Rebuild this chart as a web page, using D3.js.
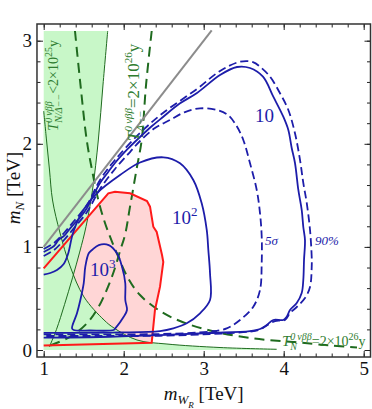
<!DOCTYPE html>
<html><head><meta charset="utf-8">
<script src="https://cdn.jsdelivr.net/npm/d3@7"></script>
<style>body{margin:0;background:#fff;}svg{display:block;}</style>
</head><body><svg id="c" width="372" height="409"></svg>
<script>
// ---- data (m_WR [TeV], m_N [TeV]) ----
const xTicks = [1, 2, 3, 4, 5];
const yTicks = [0, 1, 2, 3];
const greenSolidN = [[1.0,2.318],[1.035,2.037],[1.0725,1.746],[1.11,1.455],[1.204,1.135],[1.329,0.815],[1.504,0.514],[1.754,0.291],[1.879,0.213],[2.166,0.097],[2.541,0.058],[3.204,0.024],[3.9125,0.007]];
const greenSolidD = [[1.8,3.094],[1.741,2.57],[1.683,2.037],[1.61,1.55],[1.53,1.2],[1.45,0.95],[1.36,0.7],[1.26,0.44],[1.16,0.2],[1.07,0.03]];
const greenDashN = [[1.391,3.094],[1.46,2.57],[1.5375,2.037],[1.604,1.746],[1.6825,1.455],[1.754,1.261],[1.829,1.099],[1.9325,0.905],[2.054,0.698],[2.204,0.533],[2.454,0.378],[2.704,0.281],[3.079,0.189],[3.579,0.116],[4.116,0.078],[4.579,0.044],[4.916,0.024]];
const greenDashD = [[2.35,3.094],[2.279,2.57],[2.225,2.037],[2.16,1.75],[2.079,1.39],[2.016,1.115],[1.9575,0.97],[1.891,0.795],[1.8125,0.63],[1.6875,0.42],[1.541,0.259],[1.3325,0.129],[1.041,0.032]];
const grayLine = [[1.0,1.0],[3.1,3.1]];
const redRegion = [[1.0,0.792],[1.8075,1.52],[1.891,1.535],[2.079,1.52],[2.291,1.445],[2.329,1.39],[2.37,1.196],[2.4125,1.145],[2.479,0.921],[2.495,0.854],[2.454,0.614],[2.391,0.388],[2.35,0.071],[1.0,0.044]];
const c10 = [[1.0,0.951],[1.06,0.975],[1.129,1.009],[1.19,1.07],[1.254,1.106],[1.32,1.17],[1.379,1.222],[1.46,1.29],[1.541,1.377],[1.62,1.5],[1.704,1.62],[1.8,1.72],[1.891,1.814],[2.05,1.95],[2.204,2.066],[2.35,2.17],[2.491,2.26],[2.7,2.39],[2.916,2.493],[3.204,2.667],[3.416,2.745],[3.579,2.735],[3.741,2.651],[3.87,2.457],[3.995,2.263],[4.058,2.134],[4.1,1.959],[4.141,1.814],[4.183,1.552],[4.225,1.358],[4.245,1.193],[4.266,1.067],[4.254,0.873],[4.245,0.679],[4.225,0.553],[4.163,0.456],[4.079,0.388],[4.038,0.323],[3.995,0.291],[3.87,0.291],[3.788,0.242],[3.704,0.204],[3.579,0.184],[3.079,0.165],[2.454,0.145],[1.704,0.126],[1.0,0.121]];
const c90 = [[1.0,0.98],[1.129,1.038],[1.254,1.135],[1.379,1.251],[1.541,1.406],[1.704,1.649],[1.891,1.843],[2.204,2.105],[2.491,2.299],[2.916,2.532],[3.204,2.706],[3.454,2.796],[3.616,2.793],[3.704,2.748],[3.829,2.651],[3.954,2.49],[4.058,2.328],[4.141,2.102],[4.204,1.843],[4.245,1.62],[4.288,1.426],[4.329,1.164],[4.35,0.902],[4.35,0.805],[4.329,0.611],[4.266,0.504],[4.163,0.417],[4.079,0.359],[4.016,0.291],[3.891,0.281],[3.788,0.238],[3.704,0.199],[3.579,0.179],[3.079,0.155],[2.454,0.138],[1.704,0.136],[1.0,0.136]];
const c5s = [[1.0,0.912],[1.129,0.97],[1.254,1.067],[1.379,1.183],[1.541,1.338],[1.704,1.562],[1.891,1.756],[2.079,1.92],[2.204,2.027],[2.391,2.153],[2.579,2.231],[2.766,2.308],[2.954,2.344],[3.163,2.328],[3.304,2.279],[3.404,2.182],[3.495,2.037],[3.579,1.811],[3.663,1.552],[3.704,1.326],[3.725,1.099],[3.725,0.844],[3.704,0.582],[3.62,0.42],[3.454,0.291],[3.288,0.21],[3.079,0.179],[2.454,0.155],[1.704,0.152],[1.0,0.152]];
const c100 = [[1.0,0.732],[1.083,0.747],[1.166,0.776],[1.25,0.834],[1.304,0.931],[1.37,1.145],[1.495,1.358],[1.663,1.52],[1.954,1.697],[2.204,1.819],[2.495,1.869],[2.704,1.811],[2.87,1.649],[2.975,1.423],[3.038,1.164],[3.058,0.97],[3.079,0.744],[3.079,0.485],[2.954,0.356],[2.788,0.259],[2.62,0.21],[2.454,0.184],[1.954,0.17],[1.0,0.167]];
const c1000 = [[1.604,0.97],[1.688,1.018],[1.813,1.018],[1.916,0.938],[1.979,0.808],[2.02,0.647],[2.02,0.485],[2.041,0.388],[2.0,0.323],[1.895,0.21],[1.875,0.194],[1.579,0.189],[1.375,0.194],[1.354,0.21],[1.416,0.356],[1.458,0.485],[1.5,0.647],[1.52,0.808],[1.563,0.938]];

// ---- setup ----
const svg = d3.select('#c');
const x = d3.scaleLinear().domain([1,5]).range([43.7,363.7]);
const y = d3.scaleLinear().domain([0,3]).range([350,40.7]);
const X0 = x(0.916), X1 = x(5.085), Y0 = y(3.162), Y1 = y(-0.068);
const SERIF = "'Liberation Serif','DejaVu Serif',serif";
const BLUE = '#1d1daa', GREEN = '#1f6b1f', GTXT = '#2f7d2f';

svg.append('defs').append('clipPath').attr('id','clip').append('rect')
  .attr('x',X0).attr('y',Y0).attr('width',X1-X0).attr('height',Y1-Y0);
const plot = svg.append('g').attr('clip-path','url(#clip)');

const lineLin = d3.line().x(d=>x(d[0])).y(d=>y(d[1]));
const lineSm = d3.line().x(d=>x(d[0])).y(d=>y(d[1])).curve(d3.curveCatmullRom.alpha(0.5));
const lineSmClosed = d3.line().x(d=>x(d[0])).y(d=>y(d[1])).curve(d3.curveCatmullRomClosed.alpha(0.5));

// pink region
plot.append('path').attr('d', lineLin(redRegion)+'Z').attr('fill','#ffd6d6').attr('stroke','none');
// green excluded region (union of two regions)
const gFill = '#c8f7c8';
plot.append('path').attr('d', 'M'+x(1)+','+y(0)+'L'+x(1)+','+y(3.094)+'L'+lineSm(greenSolidD).slice(1)+'L'+x(1.07)+','+y(0)+'Z').attr('fill',gFill);
plot.append('path').attr('d', 'M'+x(1)+','+y(0)+'L'+lineSm(greenSolidN).slice(1)+'L'+x(3.9125)+','+y(0)+'Z').attr('fill',gFill);
// green thin lines
[greenSolidN, greenSolidD].forEach(d=>plot.append('path').attr('d',lineSm(d)).attr('fill','none').attr('stroke',GREEN).attr('stroke-width',1));
// green dashed lines
[greenDashN, greenDashD].forEach(d=>plot.append('path').attr('d',lineSm(d)).attr('fill','none').attr('stroke',GREEN).attr('stroke-width',2).attr('stroke-dasharray','10,6'));
// gray line
plot.append('path').attr('d',lineLin(grayLine)).attr('stroke','#8c8c8c').attr('stroke-width',2).attr('fill','none');
// red outline
plot.append('path').attr('d', lineLin(redRegion)).attr('fill','none').attr('stroke','#ff1a1a').attr('stroke-width',2);
// blue contours
const blue = (d, dash) => plot.append('path').attr('d', lineSm(d)).attr('fill','none').attr('stroke',BLUE).attr('stroke-width',1.8).attr('stroke-dasharray', dash||null);
blue(c90,'8,4'); blue(c5s,'8,4'); blue(c10); blue(c100);
plot.append('path').attr('d', lineSmClosed(c1000)).attr('fill','none').attr('stroke',BLUE).attr('stroke-width',1.8);

// ---- rich text helper ----
function rich(g, parts, fill) {
  let xx = 0, lastStart = 0;
  parts.forEach(p => {
    const start = p.stack ? lastStart : xx;
    const t = g.append('text').attr('x',start).attr('y',p.dy||0).attr('font-size',p.s)
      .attr('font-family',SERIF).attr('fill',fill).attr('font-style',p.it?'italic':'normal')
      .style('white-space','pre').text(p.t);
    const w = t.node().getComputedTextLength();
    xx = p.stack ? Math.max(xx, start+w) : start+w;
    lastStart = start;
  });
  return xx;
}

// blue labels
const bl = svg.append('g');
rich(bl.append('g').attr('transform','translate(255,122)'), [{t:'10',s:19}], BLUE);
rich(bl.append('g').attr('transform','translate(172,224)'), [{t:'10',s:19},{t:'2',s:13,dy:-8}], BLUE);
rich(bl.append('g').attr('transform','translate(90,276)'), [{t:'10',s:19},{t:'3',s:13,dy:-8}], BLUE);
rich(bl.append('g').attr('transform','translate(265,245)'), [{t:'5σ',s:13,it:true}], BLUE);
rich(bl.append('g').attr('transform','translate(315,245)'), [{t:'90%',s:13,it:true}], BLUE);

// green labels
rich(svg.append('g').attr('transform','translate(58,131) rotate(-90)'),
  [{t:'T',s:15,it:true},{t:'0\u2009νββ',s:10,dy:-6,it:true},{t:'N/Δ−−',s:10,dy:4,it:true,stack:true},{t:'<2×10',s:14},{t:'25',s:10,dy:-6},{t:'y',s:14}], GTXT);
rich(svg.append('g').attr('transform','translate(139,141) rotate(-90)'),
  [{t:'T',s:17,it:true},{t:'0\u2009νββ',s:11,dy:-7,it:true},{t:'Δ−−',s:11,dy:5,it:true,stack:true},{t:'=2×10',s:17},{t:'26',s:11,dy:-7},{t:'y',s:17}], GTXT);
rich(svg.append('g').attr('transform','translate(282,346)'),
  [{t:'T',s:15,it:true},{t:'0\u2009νββ',s:10,dy:-6,it:true},{t:'N',s:10,dy:4,it:true,stack:true},{t:'=2×10',s:14},{t:'26',s:10,dy:-6},{t:'y',s:14}], GTXT);

// ---- axes ----
const minorX = d3.range(1, 5.01, 0.2), minorY = d3.range(0, 3.11, 0.2);
function ax(gen, scale, vals, size, tr, labels) {
  const a = gen(scale).tickValues(vals).tickSize(-size).tickPadding(5);
  a.tickFormat(labels ? d3.format('d') : '');
  const g = svg.append('g').attr('transform',tr).call(a);
  g.select('.domain').remove();
  g.selectAll('line').attr('stroke','#222').attr('stroke-width',1);
  g.selectAll('text').attr('font-family',SERIF).attr('font-size',19).attr('fill','#111');
  return g;
}
ax(d3.axisBottom, x, minorX, 3.5, `translate(0,${Y1})`, false);
ax(d3.axisTop, x, minorX, 3.5, `translate(0,${Y0})`, false);
ax(d3.axisLeft, y, minorY, 3.5, `translate(${X0},0)`, false);
ax(d3.axisRight, y, minorY, 3.5, `translate(${X1},0)`, false);
ax(d3.axisBottom, x, xTicks, 6, `translate(0,${Y1})`, true);
ax(d3.axisTop, x, xTicks, 6, `translate(0,${Y0})`, false);
ax(d3.axisLeft, y, yTicks, 6, `translate(${X0},0)`, true);
ax(d3.axisRight, y, yTicks, 6, `translate(${X1},0)`, false);

svg.append('rect').attr('x',X0).attr('y',Y0).attr('width',X1-X0).attr('height',Y1-Y0)
  .attr('fill','none').attr('stroke','#333').attr('stroke-width',1.5);

// axis titles
const xt = svg.append('g');
const wx = rich(xt, [{t:'m',s:19,it:true},{t:'W',s:13,dy:4,it:true},{t:'R',s:9,dy:8,it:true},{t:'\u00a0[TeV]',s:19}], '#111');
xt.attr('transform',`translate(${x(3)-wx/2},400)`);
const yt = svg.append('g');
const wy = rich(yt, [{t:'m',s:19,it:true},{t:'N',s:13,dy:4,it:true},{t:'\u00a0[TeV]',s:19}], '#111');
yt.attr('transform',`translate(20,${188+wy/2}) rotate(-90)`);
</script></body></html>
